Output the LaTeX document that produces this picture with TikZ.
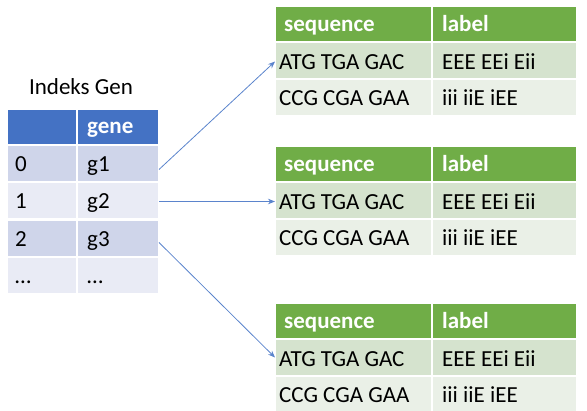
\documentclass[tikz,border=0pt]{standalone}
\usepackage{fontspec}
\setmainfont{Carlito}
\usetikzlibrary{arrows.meta}
\definecolor{bhead}{HTML}{4472C4}
\definecolor{bdark}{HTML}{CFD5EA}
\definecolor{blight}{HTML}{E9EBF5}
\definecolor{ghead}{HTML}{70AD47}
\definecolor{gdark}{HTML}{D5E3CE}
\definecolor{glight}{HTML}{EAF0E7}
\definecolor{arrc}{HTML}{5B84CC}
\tikzset{
  cell/.style={draw=white, line width=1.5pt, anchor=north west, inner sep=0pt, outer sep=0pt},
  txt/.style={anchor=base west, inner sep=0pt, font=\fontsize{23}{26}\selectfont},
  htxt/.style={txt, text=white, font=\fontsize{23}{26}\selectfont\bfseries},
  arr/.style={draw=arrc, line width=0.8pt, -{Stealth[length=7pt,width=5.5pt]}}
}
\begin{document}
\begin{tikzpicture}[x=1pt,y=-1pt]
\useasboundingbox (0,0) rectangle (587,411);
% title
\node[txt, anchor=base] (title) at (81,95) {Indeks Gen};
% left table
\node[cell, fill=bhead, minimum width=70pt, minimum height=36pt] (h0) at (7,109) {};
\node[cell, fill=bhead, minimum width=82pt, minimum height=36pt] (h1) at (77,109) {};
\node[htxt] (hg) at (87,134) {gene};
\foreach \r/\y/\c/\a/\b in {0/145/bdark/0/g1, 1/182/blight/1/g2, 2/220/bdark/2/g3, 3/257/blight/{…}/{…}}{
  \node[cell, fill=\c, minimum width=70pt, minimum height=37pt] (ia\r) at (7,\y) {};
  \node[cell, fill=\c, minimum width=82pt, minimum height=37pt] (ib\r) at (77,\y) {};
  \node[txt] (ta\r) at (15,\y+27) {\a};
  \node[txt] (tb\r) at (87,\y+27) {\b};
}
% right tables
\foreach \t/\y in {1/6, 2/146, 3/303}{
  \node[cell, fill=ghead, minimum width=157pt, minimum height=36pt] (sh\t) at (275,\y) {};
  \node[cell, fill=ghead, minimum width=145pt, minimum height=36pt] (lh\t) at (432,\y) {};
  \node[htxt] (sht\t) at (284,\y+26) {sequence};
  \node[htxt] (lht\t) at (442,\y+26) {label};
  \node[cell, fill=gdark, minimum width=157pt, minimum height=37pt] (s\t) at (275,\y+36) {};
  \node[cell, fill=gdark, minimum width=145pt, minimum height=37pt] (l\t) at (432,\y+36) {};
  \node[txt] (st\t) at (279,\y+64) {ATG TGA GAC};
  \node[txt] (lt\t) at (442,\y+64) {EEE EEi Eii};
  \node[cell, fill=glight, minimum width=157pt, minimum height=37pt] (ss\t) at (275,\y+73) {};
  \node[cell, fill=glight, minimum width=145pt, minimum height=37pt] (ll\t) at (432,\y+73) {};
  \node[txt] (sst\t) at (279,\y+100) {CCG CGA GAA};
  \node[txt] (llt\t) at (442,\y+100) {iii iiE iEE};
}
% arrows
\draw[arr] ([yshift=-6pt]ib0.east) -- ([yshift=-1pt]s1.west);
\draw[arr] ([yshift=-1pt]ib1.east) -- ([yshift=-1pt]s2.west);
\draw[arr] ([yshift=-4pt]ib2.east) -- (s3.west);
\end{tikzpicture}
\end{document}
